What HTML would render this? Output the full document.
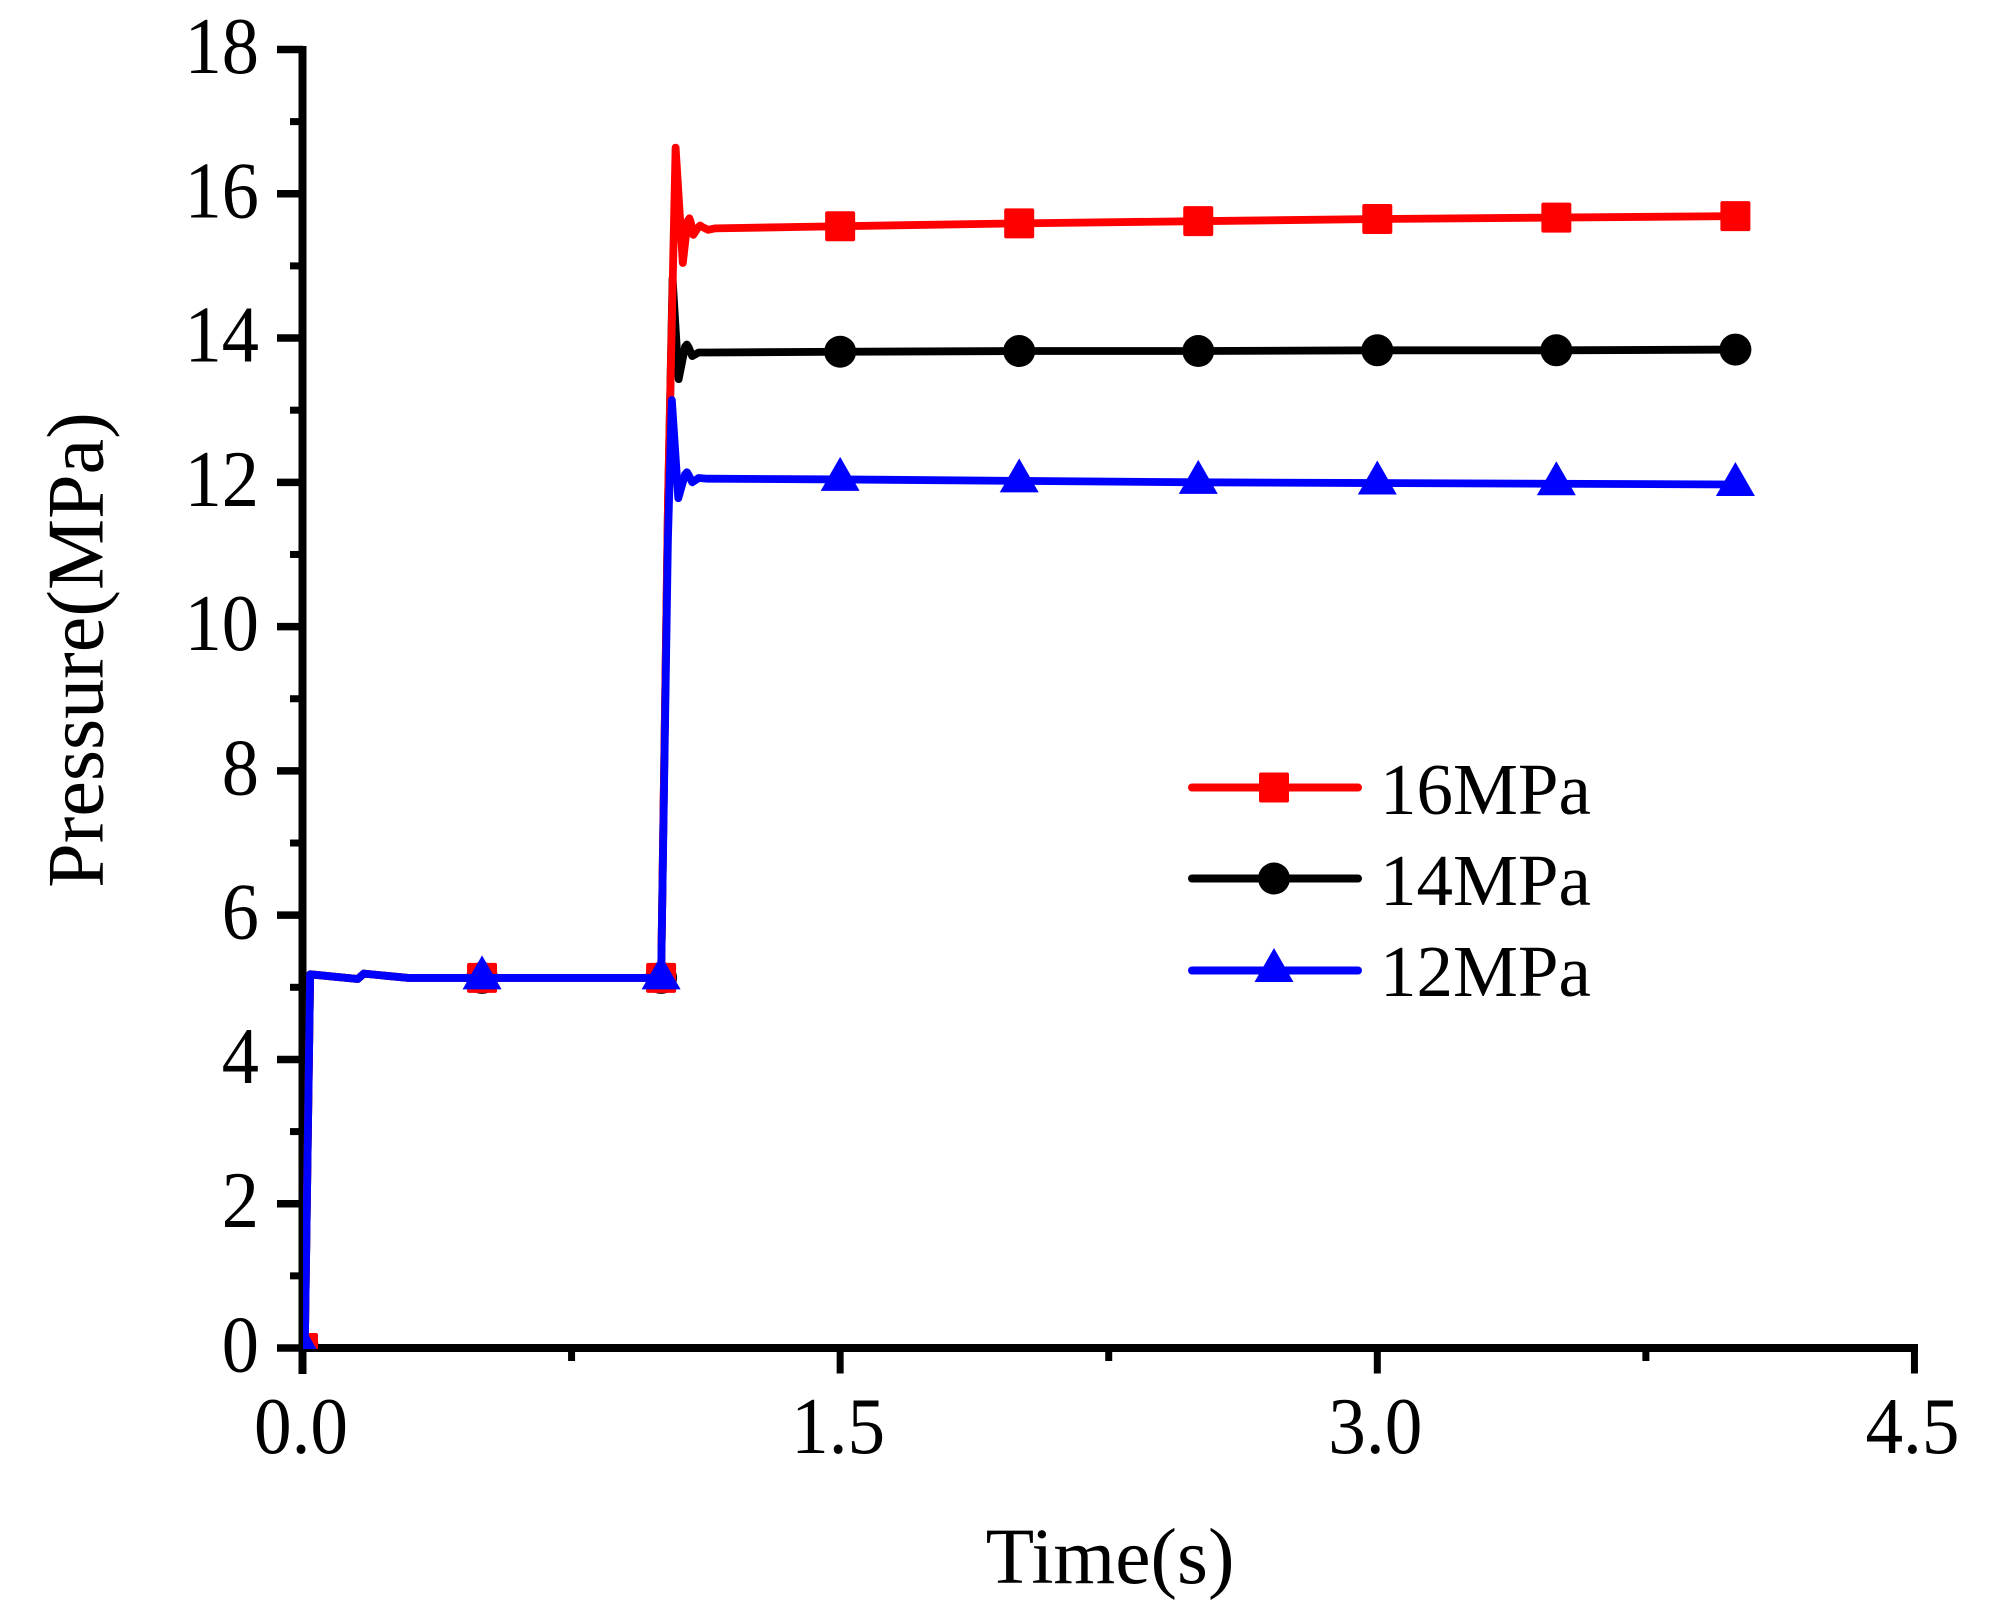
<!DOCTYPE html>
<html lang="en">
<head>
<meta charset="utf-8">
<title>Pressure vs Time</title>
<style>
html,body{margin:0;padding:0;background:#fff;}
svg{display:block;}
text{font-family:"Liberation Serif","Times New Roman",serif;fill:#000;}
</style>
</head>
<body>
<svg id="chart" xmlns="http://www.w3.org/2000/svg" width="1993" height="1621" viewBox="0 0 1993 1621">
  <rect x="0" y="0" width="1993" height="1621" fill="#fff"/>
  <defs>
    <clipPath id="plot-clip"><rect x="303" y="40" width="1620" height="1309"/></clipPath>
  </defs>
  <g id="axes"></g>
  <g id="series" clip-path="url(#plot-clip)"></g>
  <text x="1110" y="1583" font-size="79.5" text-anchor="middle">Time(s)</text>
  <text transform="translate(102.7 650) rotate(-90)" font-size="80" text-anchor="middle">Pressure(MPa)</text>
  <g id="legend"></g>
</svg>
<script>
const xMajorTicks = [0, 1.5, 3, 4.5];
const xMinorTicks = [0.75, 2.25, 3.75];
const xTickLabels = ['0.0', '1.5', '3.0', '4.5'];
const yMajorTicks = [0, 2, 4, 6, 8, 10, 12, 14, 16, 18];
const yMinorTicks = [1, 3, 5, 7, 9, 11, 13, 15, 17];
const yTickLabels = ['0', '2', '4', '6', '8', '10', '12', '14', '16', '18'];

const seriesNames = ['16MPa', '14MPa', '12MPa'];
const seriesColors = ['#ff0000', '#000000', '#0000ff'];
const seriesShapes = ['square', 'circle', 'triangle'];

const redTimes = [0, 0.005, 0.02, 0.153, 0.17, 0.293, 0.5, 1.0, 1.0195, 1.0405, 1.0606, 1.074, 1.079, 1.083, 1.09, 1.103, 1.109, 1.115, 1.131, 1.15, 1.5, 2, 2.5, 3, 3.5, 4];
const redValues = [0, 0, 5.18, 5.115, 5.19, 5.13, 5.13, 5.13, 11.8, 16.64, 15.04, 15.62, 15.66, 15.6, 15.43, 15.53, 15.56, 15.54, 15.5, 15.52, 15.55, 15.59, 15.62, 15.65, 15.67, 15.69];
const blackTimes = [0, 0.005, 0.02, 0.153, 0.17, 0.293, 0.5, 1.0, 1.019, 1.032, 1.049, 1.067, 1.072, 1.077, 1.087, 1.105, 1.13, 1.5, 2, 2.5, 3, 3.5, 4];
const blackValues = [0, 0, 5.18, 5.115, 5.19, 5.13, 5.13, 5.13, 11.6, 14.83, 13.43, 13.88, 13.91, 13.87, 13.75, 13.8, 13.8, 13.81, 13.82, 13.82, 13.83, 13.83, 13.84];
const blueTimes = [0, 0.005, 0.02, 0.153, 0.17, 0.293, 0.5, 1.0, 1.019, 1.03, 1.048, 1.067, 1.072, 1.077, 1.087, 1.105, 1.13, 1.5, 2, 2.5, 3, 3.5, 4];
const blueValues = [0, 0, 5.18, 5.115, 5.19, 5.13, 5.13, 5.13, 11.2, 13.14, 11.78, 12.11, 12.14, 12.1, 12.0, 12.06, 12.05, 12.04, 12.02, 12.0, 11.99, 11.98, 11.97];

const markerTimes = [0, 0.5, 1, 1.5, 2, 2.5, 3, 3.5, 4];
const redMarkerValues = [0, 5.13, 5.13, 15.55, 15.59, 15.62, 15.65, 15.67, 15.69];
const blackMarkerValues = [0, 5.13, 5.13, 13.81, 13.82, 13.82, 13.83, 13.83, 13.84];
const blueMarkerValues = [0, 5.13, 5.13, 12.04, 12.02, 12.0, 11.99, 11.98, 11.97];

const SVGNS = 'http://www.w3.org/2000/svg';
function xScale(t) { return 303 + t * 358.1; }
function yScale(v) { return 1348 - v * 72.14; }
function make(tag, parent, attrs) {
  const el = document.createElementNS(SVGNS, tag);
  for (const k in attrs) el.setAttribute(k, attrs[k]);
  parent.appendChild(el);
  return el;
}
function drawMarker(parent, shape, color, cx, cy) {
  let el;
  if (shape === 'square') {
    el = make('rect', parent, { x: cx - 15, y: cy - 15, width: 30, height: 30, rx: 2, fill: color });
  } else if (shape === 'circle') {
    el = make('circle', parent, { cx: cx, cy: cy, r: 16, fill: color });
  } else {
    el = make('polygon', parent, { points: (cx) + ',' + (cy - 22.5) + ' ' + (cx + 19.5) + ',' + (cy + 11.5) + ' ' + (cx - 19.5) + ',' + (cy + 11.5), fill: color });
  }
  return el;
}

const axes = document.getElementById('axes');
const yAxisLine = make('line', axes, { x1: 302.5, y1: 46, x2: 302.5, y2: 1374, stroke: '#000', 'stroke-width': 8 });


const xAxisLine = make('line', axes, { x1: 299, y1: 1348, x2: 1918, y2: 1348, stroke: '#000', 'stroke-width': 8 });



xMajorTicks.forEach(function (t, i) {
  const tick = make('line', axes, { x1: xScale(t), y1: 1348, x2: xScale(t), y2: 1373.5, stroke: '#000', 'stroke-width': 7 });
  
  
  const label = make('text', axes, { transform: 'translate(' + (xScale(t) - 2) + ' 1453) scale(0.94 1)', 'font-size': 80, 'text-anchor': 'middle' });
  label.textContent = xTickLabels[i];
  
  
});
xMinorTicks.forEach(function (t) {
  const tick = make('line', axes, { x1: xScale(t), y1: 1348, x2: xScale(t), y2: 1361, stroke: '#000', 'stroke-width': 7 });
  
  
});
yMajorTicks.forEach(function (v, i) {
  const tick = make('line', axes, { x1: 277, y1: yScale(v), x2: 303, y2: yScale(v), stroke: '#000', 'stroke-width': 7.5 });
  
  
  const label = make('text', axes, { transform: 'translate(259 ' + (yScale(v) + 23.5) + ') scale(0.93 1)', 'font-size': 80, 'text-anchor': 'end' });
  label.textContent = yTickLabels[i];
  
  
});
yMinorTicks.forEach(function (v) {
  const tick = make('line', axes, { x1: 290, y1: yScale(v), x2: 303, y2: yScale(v), stroke: '#000', 'stroke-width': 7 });
  
  
});

const seriesGroup = document.getElementById('series');
const allTimes = [redTimes, blackTimes, blueTimes];
const allValues = [redValues, blackValues, blueValues];
const allMarkerValues = [redMarkerValues, blackMarkerValues, blueMarkerValues];
[1, 0, 2].forEach(function (s) {
  const name = seriesNames[s];
  const pts = allTimes[s].map(function (t, i) { return xScale(t).toFixed(2) + ',' + yScale(allValues[s][i]).toFixed(2); }).join(' ');
  const line = make('polyline', seriesGroup, { points: pts, fill: 'none', stroke: seriesColors[s], 'stroke-width': 7.8, 'stroke-linejoin': 'round' });
  
  
  markerTimes.forEach(function (t, i) {
    const m = drawMarker(seriesGroup, seriesShapes[s], seriesColors[s], xScale(t), yScale(allMarkerValues[s][i]));
    
    
  });
});

const legend = document.getElementById('legend');
const legendRowY = [787.5, 878.5, 970.5];
const legendBaseY = [814, 905, 996];
seriesNames.forEach(function (name, s) {
  const line = make('line', legend, { x1: 1192, y1: legendRowY[s], x2: 1358, y2: legendRowY[s], stroke: seriesColors[s], 'stroke-width': 8, 'stroke-linecap': 'round' });
  
  
  const m = drawMarker(legend, seriesShapes[s], seriesColors[s], 1274, legendRowY[s]);
  
  
  const label = make('text', legend, { x: 1380, y: legendBaseY[s], 'font-size': 73 });
  label.textContent = name;
  
  
});
</script>
</body>
</html>
